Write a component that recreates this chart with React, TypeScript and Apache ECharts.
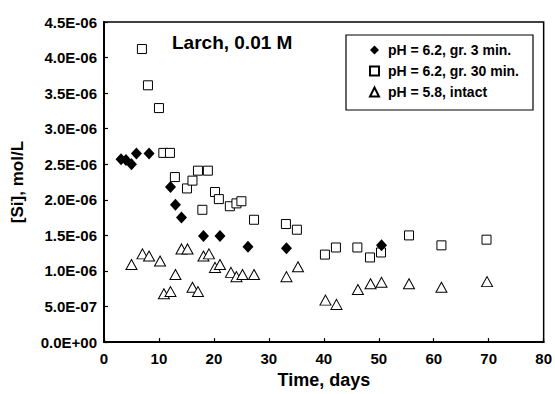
import React, { useEffect, useRef } from "react";
import * as echarts from "echarts";

const FONT = "'Liberation Sans', Arial, sans-serif";

const seriesNames = ["pH = 6.2, gr. 3 min.", "pH = 6.2, gr. 30 min.", "pH = 5.8, intact"];

// time (days) and [Si] (mol/L)
const gr3Days = [3.1, 4.0, 5.0, 5.9, 8.2, 12.1, 13.0, 14.1, 18.1, 21.1, 26.2, 33.2, 50.5];
const gr3Si = [2.57e-6, 2.56e-6, 2.5e-6, 2.65e-6, 2.65e-6, 2.18e-6, 1.93e-6, 1.75e-6, 1.49e-6, 1.49e-6, 1.34e-6, 1.32e-6, 1.36e-6];

const gr30Days = [6.9, 8.0, 10.0, 10.8, 12.0, 12.9, 15.1, 16.1, 17.1, 18.9, 20.2, 20.9, 17.9, 22.9, 24.1, 25.0, 27.3, 33.1, 35.1, 40.2, 42.2, 46.1, 48.4, 50.4, 55.5, 61.4, 69.6];
const gr30Si = [4.12e-6, 3.61e-6, 3.29e-6, 2.66e-6, 2.66e-6, 2.32e-6, 2.16e-6, 2.27e-6, 2.41e-6, 2.41e-6, 2.11e-6, 2.01e-6, 1.86e-6, 1.91e-6, 1.95e-6, 1.98e-6, 1.72e-6, 1.66e-6, 1.58e-6, 1.23e-6, 1.33e-6, 1.33e-6, 1.19e-6, 1.26e-6, 1.5e-6, 1.36e-6, 1.44e-6];

const intactDays = [5.0, 7.0, 8.2, 10.2, 10.9, 12.1, 13.0, 14.1, 15.2, 16.1, 17.1, 18.1, 19.1, 20.2, 21.1, 23.1, 24.1, 25.2, 27.3, 33.2, 35.3, 40.3, 42.3, 46.2, 48.5, 50.5, 55.5, 61.4, 69.7];
const intactSi = [1.09e-6, 1.24e-6, 1.21e-6, 1.14e-6, 0.68e-6, 0.71e-6, 0.95e-6, 1.31e-6, 1.31e-6, 0.77e-6, 0.71e-6, 1.21e-6, 1.24e-6, 1.05e-6, 1.09e-6, 0.98e-6, 0.92e-6, 0.95e-6, 0.95e-6, 0.92e-6, 1.06e-6, 0.59e-6, 0.53e-6, 0.74e-6, 0.82e-6, 0.84e-6, 0.82e-6, 0.77e-6, 0.85e-6];

const pairs = (xs: number[], ys: number[]) => xs.map((x, i) => [x, ys[i]]);

const fmtExp = (v: number) => {
  const [m, e] = v.toExponential(1).split("e");
  const sign = e[0] === "-" ? "-" : "+";
  const digits = e.replace(/[+-]/, "").padStart(2, "0");
  return `${m}E${sign}${digits}`;
};

export default function App() {
  const ref = useRef<HTMLDivElement>(null);
  useEffect(() => {
    if (!ref.current) return;
    const chart = echarts.init(ref.current, undefined, { renderer: "svg" });
    const labelStyle = { color: "#000", fontFamily: FONT, fontWeight: "bold" as const };
    chart.setOption({
      animation: false,
      backgroundColor: "#fff",
      title: {
        text: "Larch, 0.01 M",
        left: 172,
        top: 33,
        padding: 0,
        textStyle: { ...labelStyle, fontSize: 19 },
      },
      legend: {
        orient: "vertical",
        left: 346,
        top: 35,
        padding: [8, 14, 11, 23],
        itemGap: 7,
        itemWidth: 9,
        itemHeight: 9,
        borderColor: "#000",
        borderWidth: 1.2,
        formatter: (name: string) => "\u00a0" + name,
        textStyle: { ...labelStyle, fontSize: 14 },
        data: seriesNames,
      },
      grid: { left: 104, right: 9, top: 22, bottom: 45, show: true, borderColor: "#000", borderWidth: 1.5 },
      xAxis: {
        type: "value",
        min: 0,
        max: 80,
        interval: 10,
        name: "Time, days",
        nameLocation: "middle",
        nameGap: 26,
        nameTextStyle: { ...labelStyle, fontSize: 18 },
        axisLine: { lineStyle: { color: "#000", width: 2 } },
        axisTick: { inside: true, length: 4, lineStyle: { color: "#000", width: 1.2 } },
        axisLabel: { ...labelStyle, fontSize: 15, margin: 9 },
        splitLine: { show: false },
      },
      yAxis: {
        type: "value",
        min: 0,
        max: 4.5e-6,
        interval: 0.5e-6,
        name: "[Si], mol/L",
        nameLocation: "middle",
        nameGap: 78,
        nameTextStyle: { ...labelStyle, fontSize: 17 },
        axisLine: { show: true, lineStyle: { color: "#000", width: 2 } },
        axisTick: { show: true, inside: true, length: 4, lineStyle: { color: "#000", width: 1.2 } },
        axisLabel: { ...labelStyle, fontSize: 15, margin: 7, formatter: fmtExp },
        splitLine: { show: false },
      },
      series: [
        {
          name: seriesNames[0],
          type: "scatter",
          symbol: "diamond",
          symbolSize: [11, 12],
          itemStyle: { color: "#000", borderColor: "#000", borderWidth: 0, opacity: 1 },
          data: pairs(gr3Days, gr3Si),
          z: 3,
        },
        {
          name: seriesNames[1],
          type: "scatter",
          symbol: "rect",
          symbolSize: 9,
          itemStyle: { color: "#fff", borderColor: "#000", borderWidth: 1, opacity: 1 },
          data: pairs(gr30Days, gr30Si),
          z: 2,
        },
        {
          name: seriesNames[2],
          type: "scatter",
          symbol: "triangle",
          symbolSize: [11, 10],
          itemStyle: { color: "#fff", borderColor: "#000", borderWidth: 1, opacity: 1 },
          data: pairs(intactDays, intactSi),
          z: 2,
        },
      ],
    });
    return () => chart.dispose();
  }, []);
  return <div ref={ref} style={{ width: 555, height: 394, position: "absolute", left: 0, top: 0 }} />;
}
